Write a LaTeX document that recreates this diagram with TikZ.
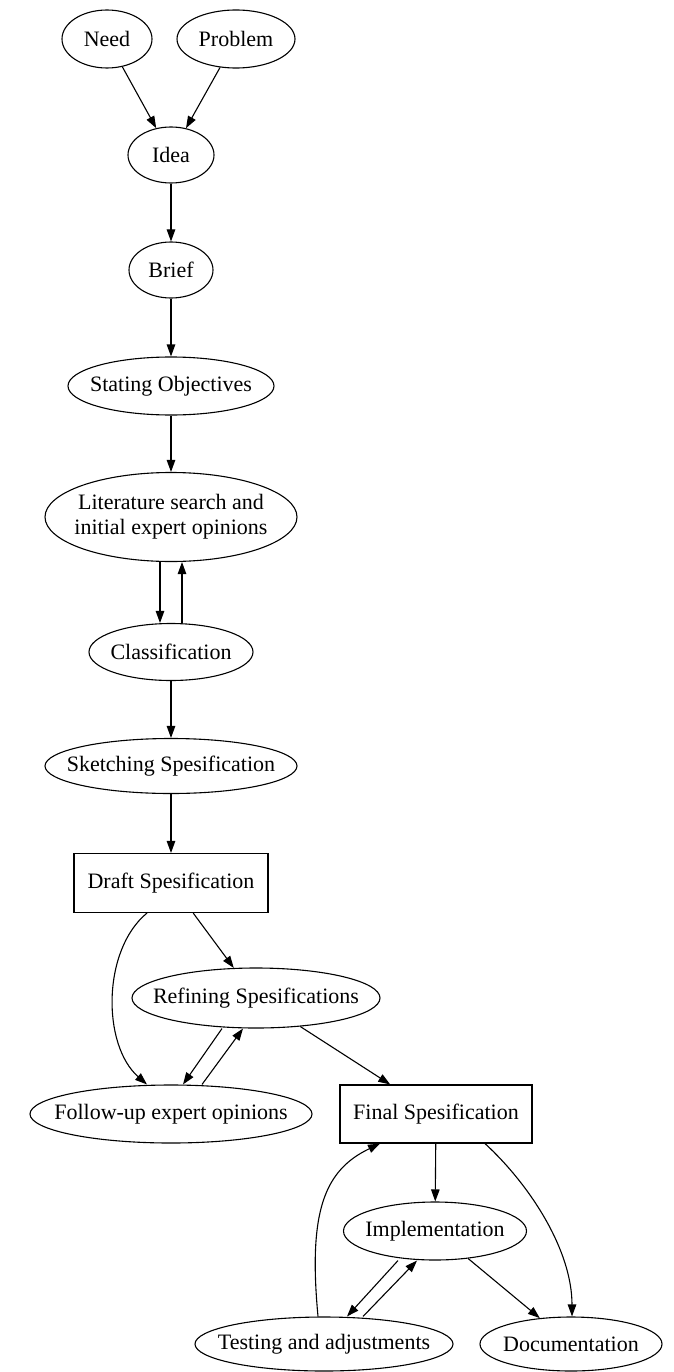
\documentclass[tikz,border=0pt]{standalone}
\usepackage{fontspec}
\setmainfont{Liberation Serif}
\usetikzlibrary{shapes.geometric,arrows.meta}
\tikzset{
  ell/.style={draw=black, line width=1.1pt, ellipse, inner xsep=-40pt, inner ysep=0pt,
    font=\fontsize{22}{25}\selectfont, align=center},
  box/.style={draw=black, line width=1.1pt, rectangle, inner sep=0pt,
    font=\fontsize{22}{25}\selectfont, align=center},
  edge/.style={draw=black, line width=1.1pt, -{Triangle[length=12pt,width=8.5pt]}}
}
\begin{document}
\begin{tikzpicture}[x=1pt,y=-1pt]
\useasboundingbox (0,0) rectangle (673,1372);
% nodes
\node[ell, minimum width=90pt,  minimum height=58pt] (need) at (107,39) {Need};
\node[ell, minimum width=118pt, minimum height=58pt] (prob) at (236,39) {Problem};
\node[ell, minimum width=86pt,  minimum height=56pt] (idea) at (171,155) {Idea};
\node[ell, minimum width=84pt,  minimum height=56pt] (brief) at (171,270) {Brief};
\node[ell, minimum width=206pt, minimum height=58pt] (stat) at (171,386) {Stating Objectives};
\node[ell, minimum width=252pt, minimum height=89pt] (lit) at (171,517) {Literature search and\\initial expert opinions};
\node[ell, minimum width=164pt, minimum height=57pt] (class) at (171,652) {Classification};
\node[ell, minimum width=252pt, minimum height=55pt] (sketch) at (171,766) {Sketching Spesification};
\node[box, minimum width=194pt, minimum height=59pt] (draft) at (171,883) {Draft Spesification};
\node[ell, minimum width=248pt, minimum height=60pt] (refin) at (256,998) {Refining Spesifications};
\node[ell, minimum width=282pt, minimum height=58pt] (follow) at (171,1114) {Follow-up expert opinions};
\node[box, minimum width=192pt, minimum height=58pt] (final) at (436,1114) {Final Spesification};
\node[ell, minimum width=183pt, minimum height=58pt] (impl) at (435,1231) {Implementation};
\node[ell, minimum width=258pt, minimum height=54pt] (test) at (324,1344) {Testing and adjustments};
\node[ell, minimum width=182pt, minimum height=54pt] (doc) at (571,1344) {Documentation};
% connectors
\draw[edge] (need) -- (idea);
\draw[edge] (prob) -- (idea);
\draw[edge] (idea) -- (brief);
\draw[edge] (brief) -- (stat);
\draw[edge] (stat) -- (lit);
\draw[edge] ([xshift=-11pt]lit.south) -- ([xshift=-11pt]class.north);
\draw[edge] ([xshift=11pt]class.north) -- ([xshift=11pt]lit.south);
\draw[edge] (class) -- (sketch);
\draw[edge] (sketch) -- (draft);
\draw[edge] (draft) -- (refin);
\draw[edge] ([xshift=-24pt]draft.south) .. controls (102,950) and (102,1045) .. ([xshift=-24pt]follow.north);
\draw[edge] ([xshift=-34pt]refin.south) -- ([xshift=12pt]follow.north);
\draw[edge] ([xshift=31pt]follow.north) -- ([xshift=-13pt]refin.south);
\draw[edge] (refin) -- (final);
\draw[edge] (final) -- (impl);
\draw[edge] ([xshift=49pt]final.south) .. controls (530,1185) and (572,1250) .. ([xshift=1pt]doc.north);
\draw[edge] ([xshift=-37pt]impl.south) -- ([xshift=23pt]test.north);
\draw[edge] ([xshift=39pt]test.north) -- ([xshift=-18pt]impl.south);
\draw[edge] (impl) -- (doc);
\draw[edge] ([xshift=-6pt]test.north) .. controls (308,1210) and (325,1170) .. ([xshift=-56pt]final.south);
\end{tikzpicture}
\end{document}
